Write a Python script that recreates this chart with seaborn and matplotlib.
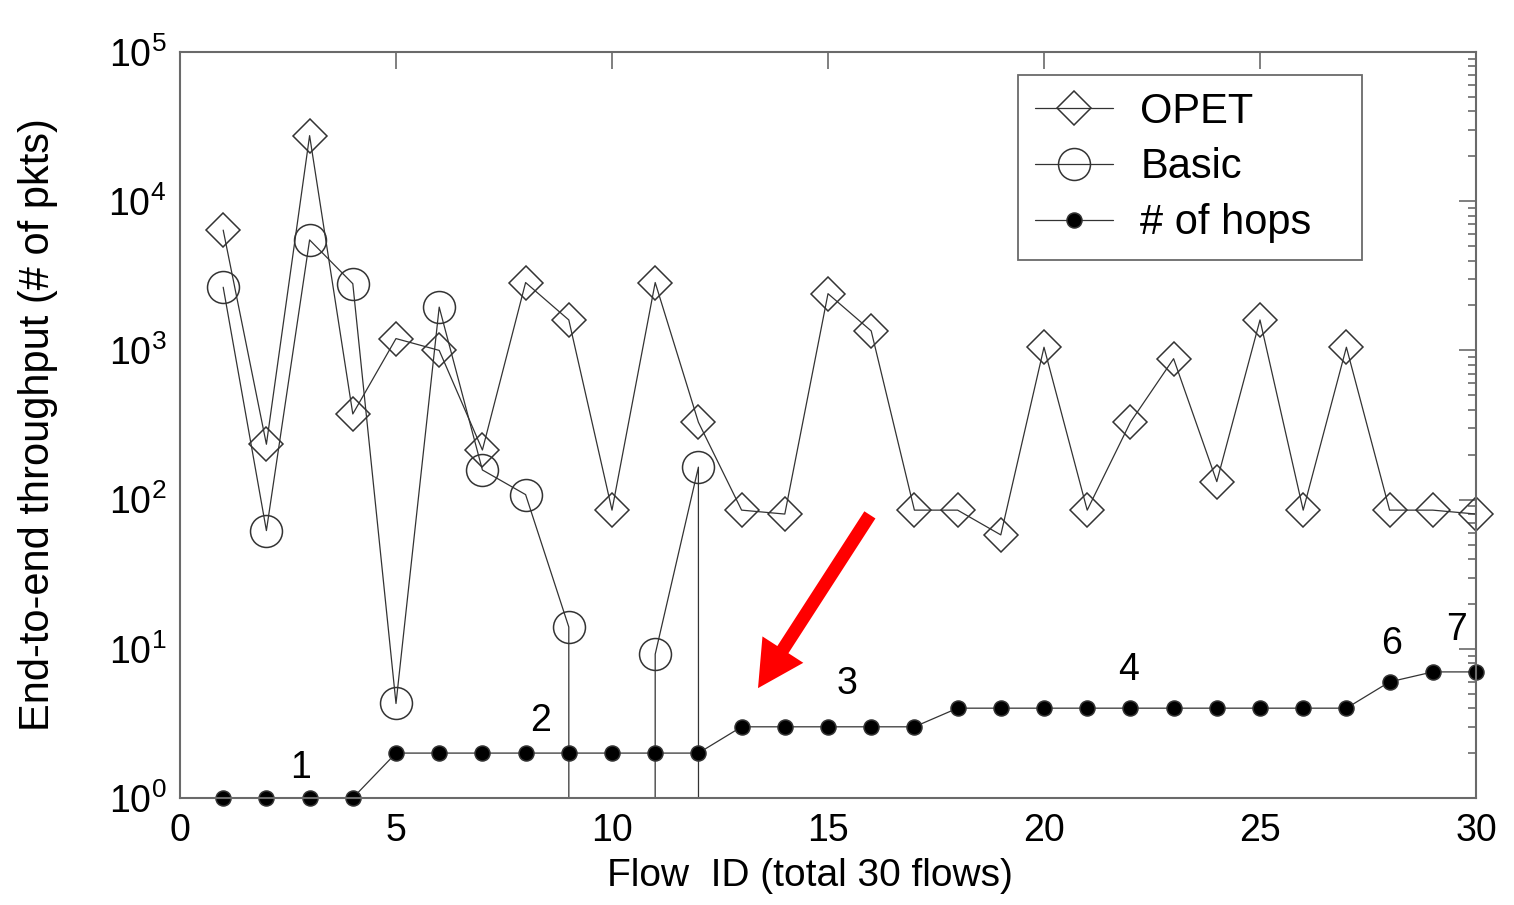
import matplotlib
matplotlib.use("Agg")
import numpy as np
import pandas as pd
import matplotlib.pyplot as plt
import seaborn as sns
from matplotlib.ticker import LogLocator, MultipleLocator, NullFormatter, LogFormatterSciNotation

# ---- data -------------------------------------------------------------
flow_id = list(range(1, 31))
opet_throughput = [6400, 235, 27500, 375, 1200, 1000, 215, 2850, 1600, 85,
                   2850, 330, 85, 80, 2400, 1350, 85, 85, 58, 1050,
                   85, 330, 880, 132, 1600, 85, 1050, 85, 85, 80]
basic_throughput = [2650, 62, 5500, 2800, 4.3, 1950, 158, 108, 14, 0,
                    9.2, 165, 0, 0, 0, 0, 0, 0, 0, 0,
                    0, 0, 0, 0, 0, 0, 0, 0, 0, 0]
num_hops = [1, 1, 1, 1, 2, 2, 2, 2, 2, 2,
            2, 2, 3, 3, 3, 3, 3, 4, 4, 4,
            4, 4, 4, 4, 4, 4, 4, 6, 7, 7]
# hop-count labels written next to the hop curve
hop_label_text = ["1", "2", "3", "4", "6", "7"]
hop_label_x = [2.78, 8.35, 15.45, 21.95, 28.05, 29.55]
hop_label_y = [1.6, 3.3, 5.8, 7.2, 10.8, 13.3]

df = pd.DataFrame({"flow": flow_id, "OPET": opet_throughput,
                   "Basic": basic_throughput, "hops": num_hops})

# ---- style ------------------------------------------------------------
sns.set_style("white")
plt.rcParams["font.family"] = ["Liberation Sans", "DejaVu Sans"]
plt.rcParams["mathtext.fontset"] = "custom"
plt.rcParams["mathtext.rm"] = "Liberation Sans"
plt.rcParams["mathtext.it"] = "Liberation Sans:italic"
plt.rcParams["mathtext.bf"] = "Liberation Sans:bold"
for key in ("text.color", "axes.labelcolor", "xtick.labelcolor", "ytick.labelcolor"):
    plt.rcParams[key] = "black"

line_col = "#333333"
frame_col = "#6a6a6a"

fig = plt.figure(figsize=(15.14, 9.05), dpi=100)
ax = fig.add_axes([180 / 1514, 1 - 798 / 905, (1476 - 180) / 1514, (798 - 52) / 905])

common = dict(color=line_col, linewidth=0.9, markeredgewidth=1.1,
              markeredgecolor=line_col, ax=ax, sort=False)
sns.lineplot(data=df, x="flow", y="OPET", marker="D", markersize=17,
             markerfacecolor="none", label="OPET", clip_on=False, **common)
sns.lineplot(data=df, x="flow", y="Basic", marker="o", markersize=23,
             markerfacecolor="none", label="Basic", **common)
sns.lineplot(data=df, x="flow", y="hops", marker="o", markersize=10.8,
             markerfacecolor="black", label="# of hops", clip_on=False, **common)

ax.set_yscale("log")
ax.set_xlim(0, 30)
ax.set_ylim(1, 1e5)

# ---- ticks ------------------------------------------------------------
ax.xaxis.set_major_locator(MultipleLocator(5))
ax.yaxis.set_major_locator(LogLocator(base=10, numticks=10))
ax.yaxis.set_minor_locator(LogLocator(base=10, subs=np.arange(2, 10), numticks=20))
ax.yaxis.set_minor_formatter(NullFormatter())
ax.yaxis.set_major_formatter(LogFormatterSciNotation())
ax.tick_params(axis="both", which="both", direction="in", top=True, right=True,
               color=frame_col, width=1.2)
ax.tick_params(axis="both", which="major", length=12, labelsize=27)
ax.tick_params(axis="y", which="minor", length=6)
ax.tick_params(axis="x", which="major", pad=11)
ax.tick_params(axis="y", which="major", pad=10)

for sp in ax.spines.values():
    sp.set_color(frame_col)
    sp.set_linewidth(1.5)

# ---- labels -----------------------------------------------------------
ax.set_xlabel("Flow  ID (total 30 flows)", fontsize=28)
ax.set_ylabel("End-to-end throughput (# of pkts)", fontsize=30)
ax.xaxis.set_label_coords(0.486, -0.080)
ax.yaxis.set_label_coords(-0.094, 0.5)

for t, x, y in zip(hop_label_text, hop_label_x, hop_label_y):
    ax.text(x, y, t, fontsize=27, ha="center", va="center", color="black")

# highlight arrow pointing at the start of the 3-hop flows
ax.annotate("", xy=(13.38, 5.45), xytext=(15.97, 79),
            arrowprops=dict(facecolor="red", edgecolor="none", width=9.5,
                            headwidth=35, headlength=33, shrink=0))

# ---- legend -----------------------------------------------------------
leg = ax.legend(loc="upper left",
                bbox_to_anchor=(1018 / 1514, 1 - 258 / 905, 344 / 1514, 183 / 905),
                bbox_transform=fig.transFigure, mode="expand",
                fontsize=30, frameon=True,
                fancybox=False, framealpha=1, edgecolor=frame_col,
                handlelength=1.87, handletextpad=0.67, labelspacing=0.38,
                borderpad=0.4, borderaxespad=0)
leg.get_frame().set_linewidth(1.3)

fig.savefig("out.png", dpi=100, facecolor="white")
